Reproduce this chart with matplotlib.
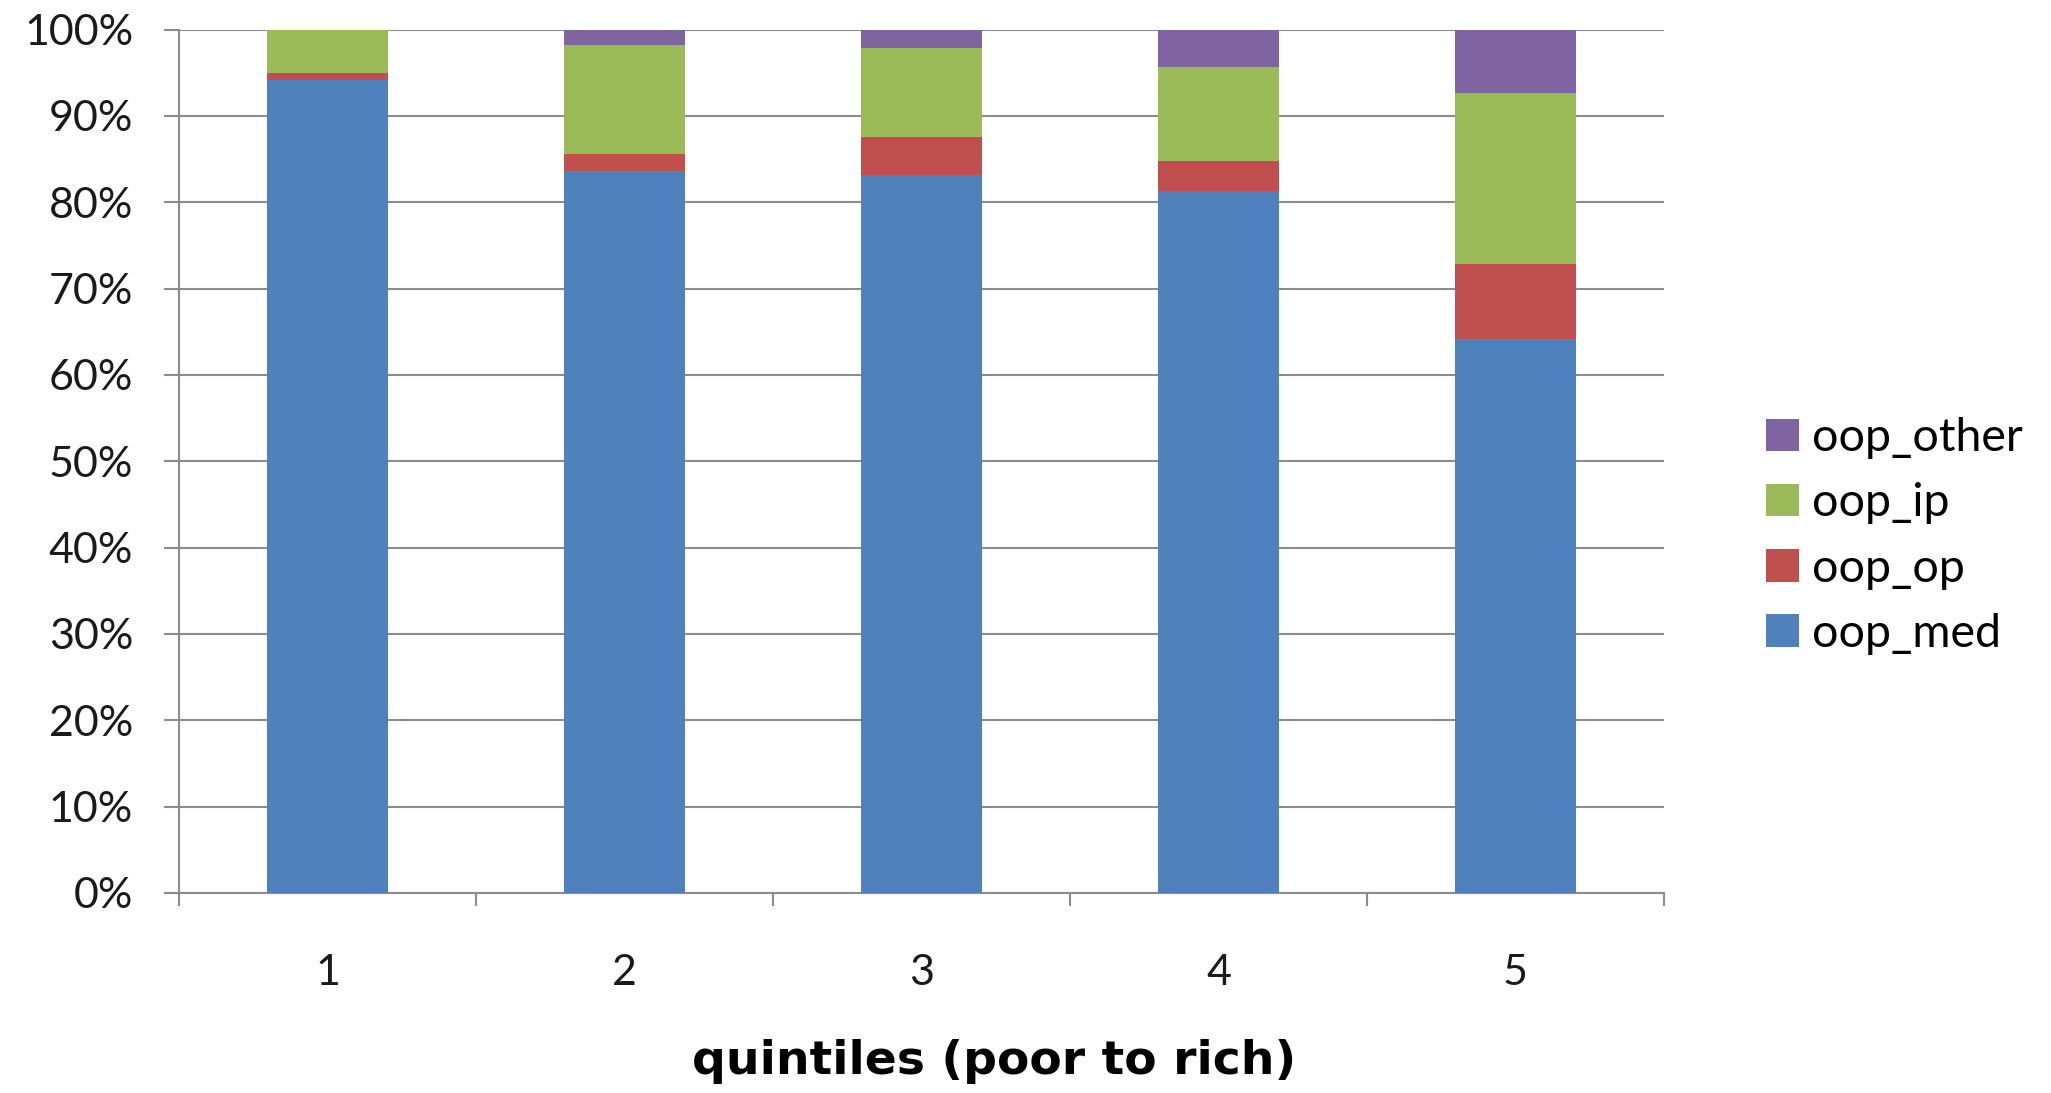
import matplotlib
matplotlib.use("Agg")
import matplotlib.pyplot as plt
from matplotlib.ticker import FuncFormatter, FixedLocator

plt.rcParams['font.family'] = ['Lato', 'DejaVu Sans']

# Share of out-of-pocket spending by component, per income quintile (%)
quintiles = ["1", "2", "3", "4", "5"]
oop_med = [94.2, 83.6, 83.1, 81.3, 64.2]
oop_op = [0.8, 2.0, 4.5, 3.5, 8.6]
oop_ip = [5.0, 12.6, 10.2, 10.8, 19.9]
oop_other = [0.0, 1.8, 2.2, 4.4, 7.3]

series = [("oop_med", oop_med, "#4F81BD"),
          ("oop_op", oop_op, "#C0504D"),
          ("oop_ip", oop_ip, "#9BBB59"),
          ("oop_other", oop_other, "#8064A2")]

W, H, DPI = 2051, 1093, 100
fig = plt.figure(figsize=(W / DPI, H / DPI), dpi=DPI)
ax = fig.add_axes([179 / W, 1 - 893 / H, (1664 - 179) / W, (893 - 29.5) / H])

grid_col = "#8C8C8C"
x = list(range(1, len(quintiles) + 1))
bottoms = [0.0] * len(quintiles)
handles = []
for name, vals, col in series:
    h = ax.bar(x, [v / 100 for v in vals], width=0.405, bottom=bottoms,
               color=col, label=name, zorder=3, linewidth=0)
    bottoms = [b + v / 100 for b, v in zip(bottoms, vals)]
    handles.append(h)

ax.set_xlim(0.5, len(quintiles) + 0.5)
ax.set_ylim(0, 1)
ax.set_yticks([i / 10 for i in range(11)])
ax.yaxis.set_major_formatter(FuncFormatter(lambda v, _: f"{v * 100:.0f}%"))
ax.grid(axis="y", color=grid_col, linewidth=1.5, zorder=0)
ax.set_axisbelow(True)

ax.set_xticks(x)
ax.set_xticklabels(quintiles)
ax.xaxis.set_minor_locator(FixedLocator([i + 0.5 for i in range(0, len(quintiles) + 1)]))
ax.tick_params(axis="x", which="major", length=0, pad=44, labelsize=31, labelcolor="#1a1a1a")
ax.tick_params(axis="x", which="minor", length=9, width=1.5, color=grid_col)
ax.tick_params(axis="y", length=11, width=1.5, color=grid_col, pad=22, labelsize=31,
               labelcolor="#1a1a1a")

for s in ("top", "right"):
    ax.spines[s].set_visible(False)
for s in ("left", "bottom"):
    ax.spines[s].set_color(grid_col)
    ax.spines[s].set_linewidth(1.5)

ax.set_xlabel("quintiles (poor to rich)", fontsize=34, fontweight="bold",
              family=["DejaVu Sans"])
ax.xaxis.set_label_coords((994 - 179) / (1664 - 179), -(1062 - 893) / (893 - 29.5))
ax.xaxis.label.set_va("center")

leg = fig.legend(handles[::-1], [s[0] for s in series][::-1],
                 loc="center left", bbox_to_anchor=(1766 / W, 1 - 536 / H),
                 frameon=False, fontsize=33.5, handlelength=0.7, handleheight=0.7,
                 handletextpad=0.28, labelspacing=0.5, borderpad=0, borderaxespad=0)

fig.savefig("out.png", dpi=DPI)
